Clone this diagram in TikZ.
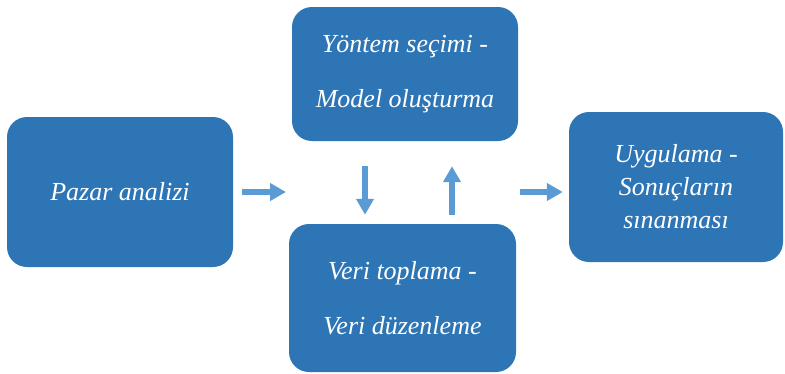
\documentclass[tikz,border=0pt]{standalone}
\usepackage{fontspec}
\setmainfont{Liberation Serif}
\usetikzlibrary{arrows.meta}
\definecolor{boxblue}{HTML}{2E75B6}
\definecolor{arrowblue}{HTML}{5B9BD5}
\begin{document}
\begin{tikzpicture}[x=1pt,y=-1pt,
  stage/.style={fill=boxblue,rounded corners=20pt,text=white,align=center,inner sep=0pt,
    font=\itshape\fontsize{26}{55}\selectfont},
  flow/.style={arrowblue,line width=6pt,-{Triangle[width=17pt,length=16pt]}}]
\useasboundingbox (0,0) rectangle (785,373);
\node[stage,minimum width=226pt,minimum height=150pt] (pazar) at (120,192) {Pazar analizi};
\node[stage,minimum width=226pt,minimum height=134pt] (model) at (405,74) {Yöntem seçimi -\\Model oluşturma};
\node[stage,minimum width=227pt,minimum height=148pt] (veri) at (402.5,298) {Veri toplama -\\Veri düzenleme};
\node[stage,minimum width=214pt,minimum height=150pt,font=\itshape\fontsize{26}{33}\selectfont] (uyg) at (676,187) {Uygulama -\\Sonuçların\\sınanması};
% arrows between the stages
\coordinate (gapL) at (286,192);
\coordinate (gapR) at (520,192);
\draw[flow,shorten <=9pt] (pazar.east) -- (gapL);
\draw[flow,shorten <=25pt,shorten >=9pt] ([xshift=-40pt]model.south) -- ([xshift=-37.5pt]veri.north);
\draw[flow,shorten <=9pt,shorten >=25pt] ([xshift=49.5pt]veri.north) -- ([xshift=47pt]model.south);
\draw[flow,shorten >=6pt] (gapR) -- (uyg.west |- gapR);
\end{tikzpicture}
\end{document}
